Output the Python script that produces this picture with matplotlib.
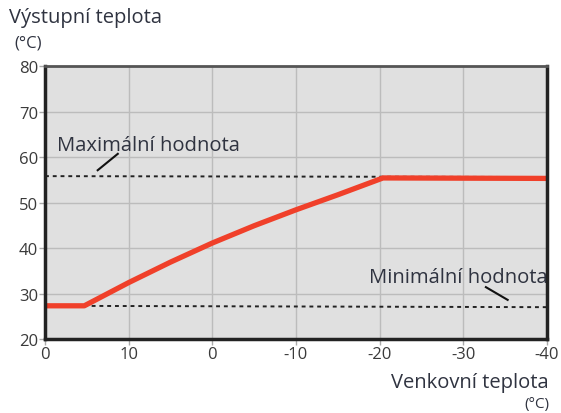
import matplotlib
matplotlib.use("Agg")
import matplotlib.pyplot as plt
import numpy as np

plt.rcParams['font.family'] = ['Open Sans', 'DejaVu Sans']

# outdoor temperature (x) and supply temperature (y) of the heating curve
curve_x = [20, 15.3, 10, 5, 0, -5, -10, -15, -20.4, -30, -40]
curve_y = [27.3, 27.3, 32.4, 36.9, 41.1, 44.9, 48.4, 51.7, 55.4, 55.35, 55.3]

max_x = [20, -40]
max_y = [55.8, 55.6]
min_x = [20, -40]
min_y = [27.3, 27.0]

x_ticks = [20, 10, 0, -10, -20, -30, -40]
x_labels = ["0", "10", "0", "-10", "-20", "-30", "-40"]
y_ticks = [20, 30, 40, 50, 60, 70, 80]

txt = '#2f3340'

fig = plt.figure(figsize=(5.61, 4.14), dpi=100)
ax = fig.add_axes([0.0802, 0.1787, 0.8948, 0.6594])
ax.set_facecolor('#e0e0e0')

ax.set_xlim(20, -40)
ax.set_ylim(20, 80)
ax.set_xticks(x_ticks)
ax.set_xticklabels(x_labels)
ax.set_yticks(y_ticks)
ax.grid(True, color='#bcbcbc', linewidth=1)
ax.set_axisbelow(True)
ax.tick_params(labelsize=12, colors='#aaaaaa', labelcolor='#3a3a3a', length=4, width=1, pad=1)

for s in ax.spines.values():
    s.set_color('#222222')
    s.set_linewidth(2.5)
ax.spines['top'].set_color('#555555')
ax.spines['top'].set_linewidth(2)

ax.plot(max_x, max_y, color='#222222', linestyle=(0, (2, 2)), linewidth=1.4)
ax.plot(min_x, min_y, color='#222222', linestyle=(0, (2, 2)), linewidth=1.4)
ax.plot(curve_x, curve_y, color='#f0402a', linewidth=3.8, solid_capstyle='butt',
        solid_joinstyle='round')

# labels for the two dashed limits
ax.text(18.6, 62.6, "Maximální hodnota", fontsize=14.6, color=txt, va='center')
ax.plot([13.7, 11.3], [57.1, 60.7], color='#111111', linewidth=1.5)
ax.text(-40.1, 33.6, "Minimální hodnota", fontsize=14.6, color=txt, va='center', ha='right')
ax.plot([-32.7, -35.3], [31.4, 28.6], color='#111111', linewidth=1.5)

fig.text(9 / 561, 1 - 18 / 414, "Výstupní teplota", fontsize=14.5, color=txt, va='center')
fig.text(14 / 561, 1 - 44 / 414, "(°C)", fontsize=12, color=txt, va='center')
fig.text(549 / 561, 1 - 383 / 414, "Venkovní teplota", fontsize=14.5, color=txt, va='center', ha='right')
fig.text(549 / 561, 1 - 405 / 414, "(°C)", fontsize=11, color=txt, va='center', ha='right')

fig.savefig("out.png", dpi=100)
